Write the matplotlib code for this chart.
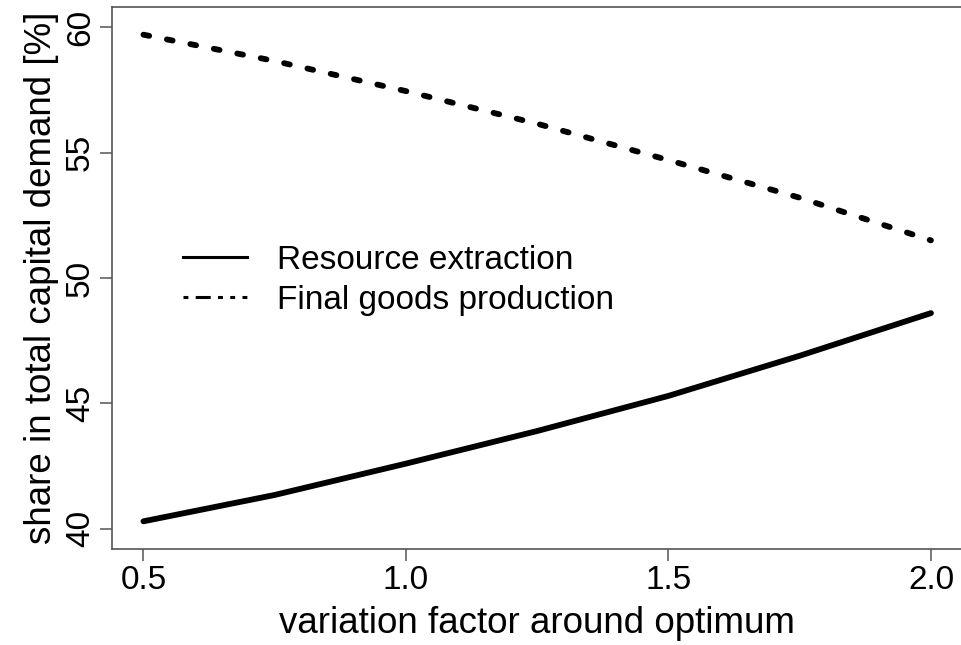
import matplotlib.pyplot as plt
from matplotlib.lines import Line2D

plt.rcParams["font.family"] = ["Liberation Sans", "DejaVu Sans"]

# variation factor and shares of total capital demand (%)
factor = [0.5, 0.75, 1.0, 1.25, 1.5, 1.75, 2.0]
resource_share = [40.3, 41.35, 42.6, 43.9, 45.3, 46.9, 48.6]
final_share = [59.7, 58.65, 57.45, 56.15, 54.7, 53.2, 51.5]

xticks = [0.5, 1.0, 1.5, 2.0]
xticklabels = ["0.5", "1.0", "1.5", "2.0"]
yticks = [40, 45, 50, 55, 60]

fig = plt.figure(figsize=(9.61, 6.45), dpi=100)
ax = fig.add_axes([0.1165, 0.149, 0.885, 0.84])

ax.plot(factor, resource_share, color="black", lw=4.2, solid_capstyle="round")
ax.plot(factor, final_share, color="black", lw=4.2, dash_capstyle="round",
        dashes=(1.0, 3.1))

ax.set_xlim(0.44, 2.06)
ax.set_ylim(39.2, 60.8)
ax.set_xticks(xticks)
ax.set_xticklabels(xticklabels)
ax.set_yticks(yticks)
ax.set_yticklabels([str(v) for v in yticks], rotation=90, va="center")

for s in ax.spines.values():
    s.set_color("#555555")
    s.set_linewidth(1.2)
ax.tick_params(axis="both", direction="out", length=8.5, width=1.1,
               color="#555555", labelsize=24, pad=3)

ax.set_xlabel("variation factor around optimum", fontsize=26.5, labelpad=7)
ax.set_ylabel("share in total capital demand [%]", fontsize=26.5, labelpad=4)

handles = [
    Line2D([], [], color="black", lw=2.2),
    Line2D([], [], color="black", lw=2.2,
           dashes=(1.6, 2.4, 4.9, 2.4, 1.6, 2.4, 1.6, 2.4)),
]
ax.legend(handles, ["Resource extraction", "Final goods production"],
          frameon=False, fontsize=24, loc="center left",
          bbox_to_anchor=(0.0835, 0.496), handlelength=1.92,
          handletextpad=0.9, labelspacing=0.27, borderpad=0,
          borderaxespad=0)

fig.savefig("out.png", dpi=100)
